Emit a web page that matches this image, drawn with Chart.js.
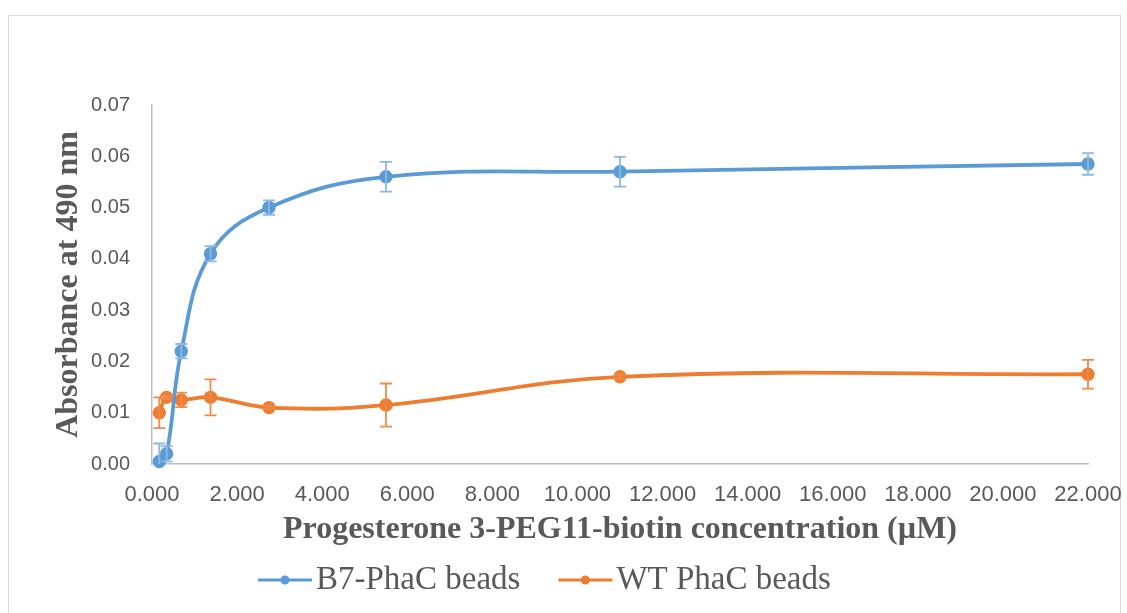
<!DOCTYPE html>
<html lang="en">
<head>
<meta charset="UTF-8">
<title>Absorbance at 490 nm vs Progesterone 3-PEG11-biotin</title>
<script src="https://cdn.jsdelivr.net/npm/chart.js"></script>
<style>
    body { margin: 0; background: #fff; overflow: hidden; }
    #frame { position: absolute; left: 8px; top: 15px; width: 1111px; height: 640px; border: 1px solid #d9d9d9; }
    #wrap { position: absolute; left: 0; top: 0; width: 1127px; height: 613px; }
</style>
</head>
<body>
<div id="frame"></div>
<div id="wrap"><canvas id="absChart"></canvas></div>
<script>
    // concentrations in uM (two-fold dilutions)
    let concentrations = [0.172, 0.344, 0.688, 1.375, 2.75, 5.5, 11, 22];
    let b7Values = [0.0005, 0.002, 0.022, 0.041, 0.050, 0.056, 0.057, 0.0585];
    let b7Errors = [0.0035, 0.0015, 0.0014, 0.0015, 0.0014, 0.0029, 0.0029, 0.0021];
    let wtValues = [0.010, 0.013, 0.0125, 0.013, 0.011, 0.0115, 0.017, 0.0175];
    let wtErrors = [0.003, 0.0003, 0.0014, 0.0035, 0.0003, 0.0042, 0.0004, 0.0028];
    let seriesNames = ['B7-PhaC beads', 'WT PhaC beads'];
    let seriesColors = ['#5B9BD5', '#ED7D31'];
    let errorColors = ['#8DB8E2', '#EF8B4B'];
    let xTickValues = [0, 2, 4, 6, 8, 10, 12, 14, 16, 18, 20, 22];
    let yTickValues = [0, 0.01, 0.02, 0.03, 0.04, 0.05, 0.06, 0.07];

    const gray = '#595959';

    function toPoints(values) {
        return values.map((v, i) => ({ x: concentrations[i], y: v }));
    }

    let errorBarPlugin = {
        id: 'errorBars',
        afterDatasetsDraw(chart) {
            let ctx = chart.ctx;
            let area = chart.chartArea;
            let xs = chart.scales.x, ys = chart.scales.y;
            ctx.save();
            // bars are cut at the plot area, like the axis
            ctx.beginPath();
            ctx.rect(area.left - 10, area.top - 10, area.right - area.left + 20, area.bottom - area.top + 10);
            ctx.clip();
            ctx.lineWidth = 1.8;
            chart.data.datasets.forEach((ds, di) => {
                ctx.strokeStyle = errorColors[di];
                ds.errors.forEach((err, i) => {
                    let px = xs.getPixelForValue(ds.data[i].x);
                    let top = ys.getPixelForValue(ds.data[i].y + err);
                    let bot = ys.getPixelForValue(ds.data[i].y - err);
                    ctx.beginPath();
                    ctx.moveTo(px, top); ctx.lineTo(px, bot);
                    ctx.moveTo(px - 6, top); ctx.lineTo(px + 6, top);
                    ctx.moveTo(px - 6, bot); ctx.lineTo(px + 6, bot);
                    ctx.stroke();
                });
            });
            ctx.restore();
        }
    };

    // legend drawn under the axis title: short line + marker, then the name
    let legendPlugin = {
        id: 'bottomLegend',
        afterDraw(chart) {
            let ctx = chart.ctx;
            ctx.save();
            ctx.font = '33px "Liberation Serif"';
            ctx.textBaseline = 'middle';
            let x = 258, y = 580;
            chart.data.datasets.forEach((ds, di) => {
                ctx.strokeStyle = seriesColors[di];
                ctx.fillStyle = seriesColors[di];
                ctx.lineWidth = 3;
                ctx.beginPath();
                ctx.moveTo(x, y); ctx.lineTo(x + 54, y);
                ctx.stroke();
                ctx.beginPath();
                ctx.arc(x + 27, y, 4.5, 0, Math.PI * 2);
                ctx.fill();
                ctx.fillStyle = gray;
                ctx.fillText(ds.label, x + 58, y);
                x += 58 + ctx.measureText(ds.label).width + 38;
            });
            ctx.restore();
        }
    };

    let datasets = [b7Values, wtValues].map((vals, i) => ({
        label: seriesNames[i],
        data: toPoints(vals),
        errors: i === 0 ? b7Errors : wtErrors,
        showLine: true,
        tension: 0.4,
        borderColor: seriesColors[i],
        backgroundColor: seriesColors[i],
        borderWidth: 3.8,
        pointRadius: 4.8,
        pointHoverRadius: 4.8,
        clip: false
    }));

    let chart = new Chart(document.getElementById('absChart'), {
        type: 'scatter',
        data: { datasets: datasets },
        options: {
            responsive: true,
            maintainAspectRatio: false,
            animation: false,
            layout: { padding: { left: 50, right: 39, top: 105, bottom: 60 } },
            plugins: {
                legend: { display: false },
                tooltip: { enabled: false }
            },
            scales: {
                x: {
                    type: 'linear',
                    min: 0,
                    max: 22,
                    afterBuildTicks: s => { s.ticks = xTickValues.map(v => ({ value: v })); },
                    afterFit: s => { s.height = 89; s.paddingLeft = 0; s.paddingRight = 0; },
                    grid: { display: false, drawTicks: false },
                    border: { color: '#bfbfbf', width: 1.5 },
                    ticks: {
                        padding: 18,
                        color: gray,
                        font: { family: '"Liberation Sans"', size: 22 },
                        callback: v => v.toFixed(3),
                        maxRotation: 0,
                        autoSkip: false
                    },
                    title: {
                        display: true,
                        text: 'Progesterone 3-PEG11-biotin concentration (µM)',
                        color: gray,
                        font: { family: '"Liberation Serif"', size: 32, weight: 'bold' },
                        padding: { top: 4, bottom: 4 }
                    }
                },
                y: {
                    min: 0,
                    max: 0.07,
                    afterBuildTicks: s => { s.ticks = yTickValues.map(v => ({ value: v })); },
                    afterFit: s => { s.width = 102; },
                    grid: { display: false, drawTicks: false },
                    border: { color: '#bfbfbf', width: 1.5 },
                    ticks: {
                        padding: 22,
                        color: gray,
                        font: { family: '"Liberation Sans"', size: 20 },
                        callback: v => v.toFixed(2)
                    },
                    title: {
                        display: true,
                        text: 'Absorbance at 490 nm',
                        color: gray,
                        font: { family: '"Liberation Serif"', size: 32, weight: 'bold' },
                        padding: { top: 0, bottom: 0 }
                    }
                }
            }
        },
        plugins: [errorBarPlugin, legendPlugin]
    });
</script>
</body>
</html>
